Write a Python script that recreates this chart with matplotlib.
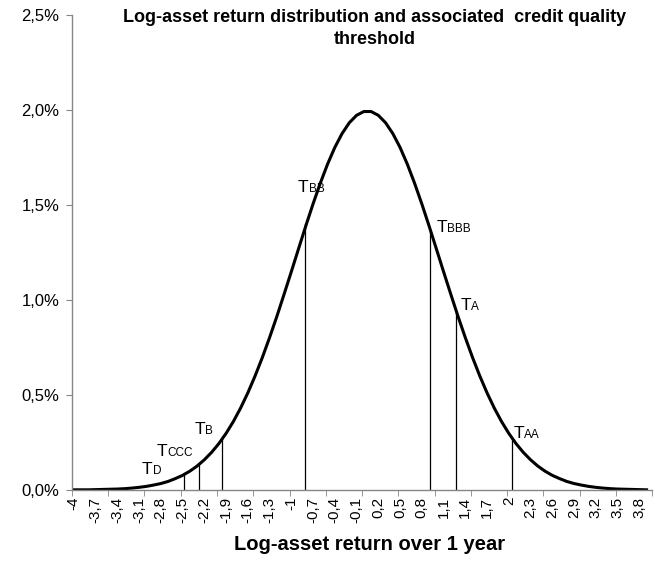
import matplotlib

matplotlib.use("Agg")
import matplotlib.pyplot as plt
import numpy as np

plt.rcParams["font.family"] = ["Liberation Sans", "DejaVu Sans"]

# log-asset return grid (categories) and density in % per bucket
x_vals = np.round(np.arange(-4.0, 3.95, 0.1), 1)
density = [
    0.001, 0.001, 0.001, 0.002, 0.003, 0.004, 0.005, 0.007, 0.010, 0.014,
    0.019, 0.026, 0.034, 0.045, 0.060, 0.077, 0.099, 0.126, 0.159, 0.198,
    0.244, 0.298, 0.360, 0.431, 0.511, 0.600, 0.697, 0.802, 0.913, 1.030,
    1.149, 1.270, 1.390, 1.506, 1.615, 1.715, 1.803, 1.876, 1.933, 1.972,
    1.992, 1.992, 1.972, 1.933, 1.876, 1.803, 1.715, 1.615, 1.506, 1.390,
    1.270, 1.149, 1.030, 0.913, 0.802, 0.697, 0.600, 0.511, 0.431, 0.360,
    0.298, 0.244, 0.198, 0.159, 0.126, 0.099, 0.077, 0.060, 0.045, 0.034,
    0.026, 0.019, 0.014, 0.010, 0.007, 0.005, 0.004, 0.003, 0.002, 0.001,
]

# credit quality thresholds
thr_names = ["D", "CCC", "B", "BB", "BBB", "A", "AA"]
thr_x = [-2.48, -2.27, -1.95, -0.81, 0.91, 1.27, 2.04]
thr_height = [0.09, 0.14, 0.28, 1.40, 1.36, 0.94, 0.27]
# label anchor (left, baseline) in data units
lbl_x = [-3.06, -2.86, -2.34, -0.91, 1.0, 1.33, 2.06]
lbl_y = [0.084, 0.179, 0.295, 1.57, 1.358, 0.947, 0.274]

tick_labels = np.round(np.arange(-4.0, 3.85, 0.3), 1)

fig = plt.figure(figsize=(6.55, 5.62), dpi=100)
ax = fig.add_axes([72 / 655, 1 - 490 / 562, 580 / 655, 475 / 562])

ax.plot(x_vals, density, color="black", linewidth=2.2, solid_joinstyle="round")
for tx, th in zip(thr_x, thr_height):
    ax.plot([tx, tx], [0, th], color="black", linewidth=0.9)
for name, lx, ly in zip(thr_names, lbl_x, lbl_y):
    ax.text(lx, ly, "T", fontsize=12.5, ha="left", va="baseline")
    ax.annotate(name, xy=(lx, ly), xytext=(7.8, 0), textcoords="offset points",
                fontsize=8.5, ha="left", va="baseline")

ax.set_xlim(-4.025, 3.975)
ax.set_ylim(0, 2.5)

ax.set_xticks(tick_labels)
ax.set_xticklabels([f"{v:g}".replace(".", ",") for v in tick_labels],
                   rotation=90, fontsize=11)
ax.tick_params(axis="x", which="major", length=0, pad=5)
ax.set_xticks(np.arange(-4.025, 4.0, 0.5), minor=True)
ax.tick_params(axis="x", which="minor", length=4, color="#868686", direction="out")

yt = [0, 0.5, 1.0, 1.5, 2.0, 2.5]
ax.set_yticks(yt)
ax.set_yticklabels([f"{v:.1f}%".replace(".", ",") for v in yt], fontsize=12)
ax.tick_params(axis="y", length=4, color="#868686", direction="out", pad=5)

for side in ["top", "right"]:
    ax.spines[side].set_visible(False)
for side in ["left", "bottom"]:
    ax.spines[side].set_color("#868686")
    ax.spines[side].set_linewidth(1.0)

fig.text(375 / 655, 1 - 18 / 562,
         "Log-asset return distribution and associated  credit quality",
         ha="center", va="center", fontsize=13, fontweight="bold")
fig.text(375 / 655, 1 - 40 / 562, "threshold",
         ha="center", va="center", fontsize=13, fontweight="bold")
fig.text(370 / 655, 1 - 545 / 562, "Log-asset return over 1 year",
         ha="center", va="center", fontsize=14.5, fontweight="bold")

fig.savefig("out.png", dpi=100)
